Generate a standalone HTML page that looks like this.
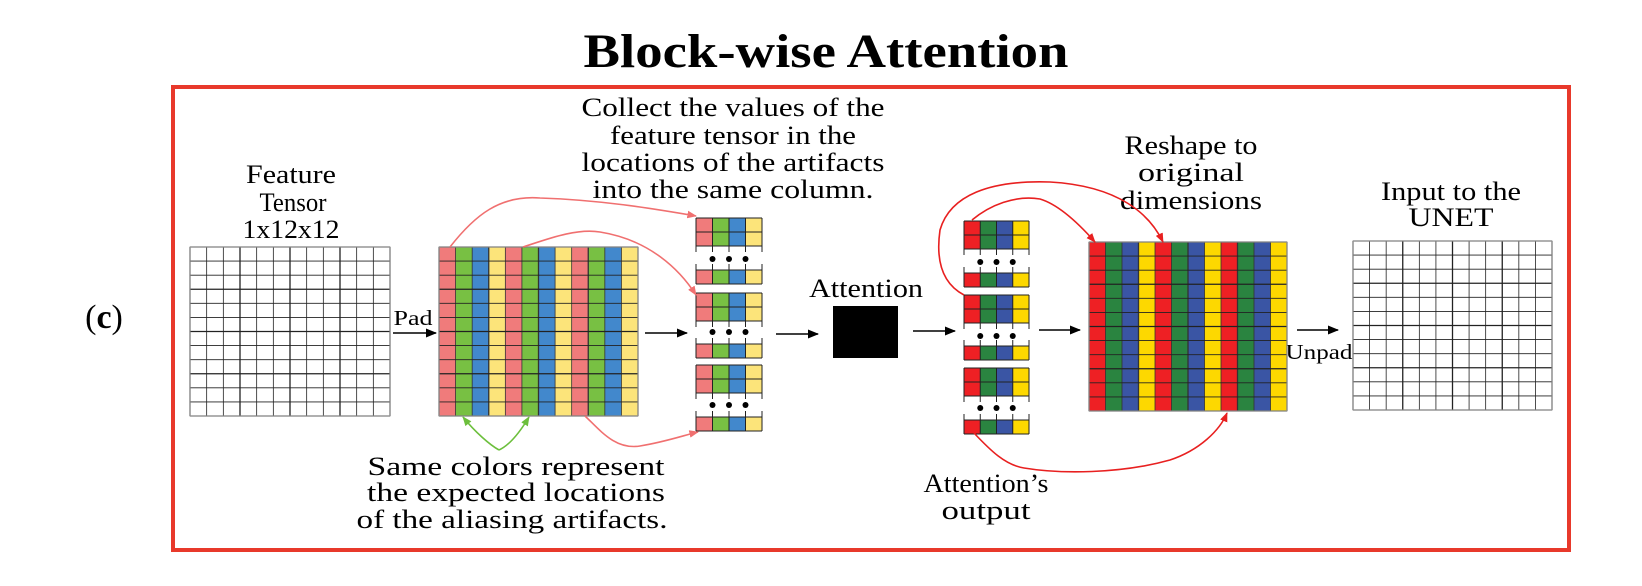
<!DOCTYPE html>
<html><head><meta charset="utf-8"><style>
html,body{margin:0;padding:0;background:#fff;}
svg{display:block;}
text{font-family:"Liberation Serif",serif;fill:#000;}
</style></head><body>
<svg id="s" width="1642" height="586" viewBox="0 0 1642 586" xmlns="http://www.w3.org/2000/svg">
<defs>
<marker id="ak" viewBox="0 0 10 10" refX="9" refY="5" markerWidth="7" markerHeight="7" orient="auto"><path d="M0,1 L10,5 L0,9 z" fill="#000"/></marker>
<marker id="ap" viewBox="0 0 10 10" refX="9" refY="5" markerWidth="6" markerHeight="6" orient="auto"><path d="M0,1 L10,5 L0,9 z" fill="#f07070"/></marker>
<marker id="ar" viewBox="0 0 10 10" refX="9" refY="5" markerWidth="6" markerHeight="6" orient="auto"><path d="M0,1 L10,5 L0,9 z" fill="#e82020"/></marker>
<marker id="ag" viewBox="0 0 10 10" refX="9" refY="5" markerWidth="6" markerHeight="6" orient="auto"><path d="M0,1 L10,5 L0,9 z" fill="#6cbf3c"/></marker>
</defs>
<text x="826" y="67" font-size="48" font-weight="bold" text-anchor="middle" textLength="485" lengthAdjust="spacingAndGlyphs">Block-wise Attention</text>
<rect x="173" y="87" width="1396" height="463" fill="none" stroke="#e8392b" stroke-width="4"/>
<text x="104" y="328" font-size="34" text-anchor="middle">(<tspan font-weight="bold">c</tspan>)</text>
<g id="g" font-size="26" text-anchor="middle">
<text x="291" y="183" textLength="90" lengthAdjust="spacingAndGlyphs">Feature</text><text x="293" y="211" textLength="67" lengthAdjust="spacingAndGlyphs">Tensor</text><text x="291" y="238" textLength="97" lengthAdjust="spacingAndGlyphs">1x12x12</text>
<text x="413" y="325" font-size="21" textLength="39" lengthAdjust="spacingAndGlyphs">Pad</text>
<text x="733" y="116" textLength="303" lengthAdjust="spacingAndGlyphs">Collect the values of the</text><text x="733" y="144" textLength="246" lengthAdjust="spacingAndGlyphs">feature tensor in the</text><text x="733" y="171" textLength="303" lengthAdjust="spacingAndGlyphs">locations of the artifacts</text><text x="733" y="198" textLength="281" lengthAdjust="spacingAndGlyphs">into the same column.</text>
<text x="516" y="475" textLength="297" lengthAdjust="spacingAndGlyphs">Same colors represent</text><text x="516" y="501" textLength="298" lengthAdjust="spacingAndGlyphs">the expected locations</text><text x="512" y="528" textLength="311" lengthAdjust="spacingAndGlyphs">of the aliasing artifacts.</text>
<text x="866" y="297" textLength="114" lengthAdjust="spacingAndGlyphs">Attention</text>
<text x="1191" y="154" textLength="133" lengthAdjust="spacingAndGlyphs">Reshape to</text><text x="1191" y="181" textLength="106" lengthAdjust="spacingAndGlyphs">original</text><text x="1191" y="209" textLength="142" lengthAdjust="spacingAndGlyphs">dimensions</text>
<text x="986" y="492" textLength="125" lengthAdjust="spacingAndGlyphs">Attention’s</text><text x="986" y="519" textLength="89" lengthAdjust="spacingAndGlyphs">output</text>
<text x="1319" y="359" font-size="21" textLength="67" lengthAdjust="spacingAndGlyphs">Unpad</text>
<text x="1451" y="200" textLength="140" lengthAdjust="spacingAndGlyphs">Input to the</text><text x="1451" y="226" textLength="85" lengthAdjust="spacingAndGlyphs">UNET</text>
</g>
<rect x="833" y="306" width="65" height="52" fill="#000"/>
<g stroke="#000" stroke-width="1.6" marker-end="url(#ak)">
<line x1="393" y1="333" x2="436" y2="333"/>
<line x1="645" y1="333" x2="687" y2="333"/>
<line x1="776" y1="334" x2="818" y2="334"/>
<line x1="913" y1="331" x2="955" y2="331"/>
<line x1="1039" y1="330" x2="1080" y2="330"/>
<line x1="1297" y1="330" x2="1338" y2="330"/>
</g>
<g id="dyn"></g>
<g fill="none" stroke-width="1.6">
<path d="M450,247 C475,215 500,195 540,198 C600,200 650,208 696,216" stroke="#f07070" marker-end="url(#ap)"/>
<path d="M523,247 C545,240 575,228 600,232 C650,240 680,270 696,295" stroke="#f07070" marker-end="url(#ap)"/>
<path d="M585,416 C600,430 615,450 640,446 C665,442 685,435 698,432" stroke="#f07070" marker-end="url(#ap)"/>
<path d="M499,450 C490,445 475,432 463,417" stroke="#6cbf3c" marker-end="url(#ag)"/>
<path d="M499,450 C510,445 520,432 529,417" stroke="#6cbf3c" marker-end="url(#ag)"/>
<path d="M972,220 C990,205 1015,195 1040,199 C1060,205 1080,225 1095,242" stroke="#e82020" marker-end="url(#ar)"/>
<path d="M964,295 C945,285 935,265 940,230 C950,195 990,180 1050,182 C1120,186 1150,215 1163,242" stroke="#e82020" marker-end="url(#ar)"/>
<path d="M974,433 C990,450 1005,465 1024,468 C1060,474 1120,474 1170,460 C1200,450 1220,430 1227,413" stroke="#e82020" marker-end="url(#ar)"/>
</g>
</svg>
<script>
(function(){
var NS="http://www.w3.org/2000/svg",d=document.getElementById("dyn");
function el(t,a){var e=document.createElementNS(NS,t);for(var k in a)e.setAttribute(k,a[k]);d.appendChild(e);return e;}
function grid(x0,y0,x1,y1,n,m,cols){
 var w=(x1-x0)/n,h=(y1-y0)/m;
 if(cols){for(var i=0;i<n;i++)el("rect",{x:x0+i*w,y:y0,width:w+0.3,height:y1-y0,fill:cols[i%4]});}
 for(var i=0;i<=n;i++)el("line",{x1:x0+i*w,y1:y0,x2:x0+i*w,y2:y1,stroke:cols?"#333":"#222","stroke-width":(i%3==0?1.3:0.8)});
 for(var j=0;j<=m;j++)el("line",{x1:x0,y1:y0+j*h,x2:x1,y2:y0+j*h,stroke:"#222","stroke-width":(j%3==0?1.3:0.8)});
 el("rect",{x:x0,y:y0,width:x1-x0,height:y1-y0,fill:"none",stroke:"#999","stroke-width":1});
}
var P=["#f07b7b","#78c043","#4288cc","#fce47a"],R=["#ee2024","#2a8440","#3a55a4","#fdd800"];
grid(190,247,390,416,12,12,null);
grid(439,247,638,416,12,12,P);
grid(1089,242,1287,411,12,12,R);
grid(1353,241,1552,410,12,12,null);
function stack(x0,x1,gs,cols){
 var w=(x1-x0)/4;
 gs.forEach(function(g){
  var t=g[0],dy=g[1],b=g[2];
  [[t,2],[b,1]].forEach(function(r){
   var y=r[0],n=r[1];
   for(var i=0;i<4;i++)el("rect",{x:x0+i*w,y:y,width:w,height:14*n,fill:cols[i]});
   for(var j=0;j<=n;j++)el("line",{x1:x0,y1:y+14*j,x2:x1,y2:y+14*j,stroke:"#222","stroke-width":1});
  });
  for(var i=0;i<=4;i++){
   el("line",{x1:x0+i*w,y1:t,x2:x0+i*w,y2:t+34,stroke:"#222","stroke-width":1});
   el("line",{x1:x0+i*w,y1:b-6,x2:x0+i*w,y2:b+14,stroke:"#222","stroke-width":1});
  }
  for(var k=1;k<=3;k++)el("circle",{cx:x0+k*w,cy:dy,r:3,fill:"#000"});
 });
}
stack(696,762,[[218,259,270],[293,332,344],[365,405,417]],P);
stack(964,1029,[[221,262,273],[295,336,346],[368,408,420]],R);
})();
</script>
</body></html>
